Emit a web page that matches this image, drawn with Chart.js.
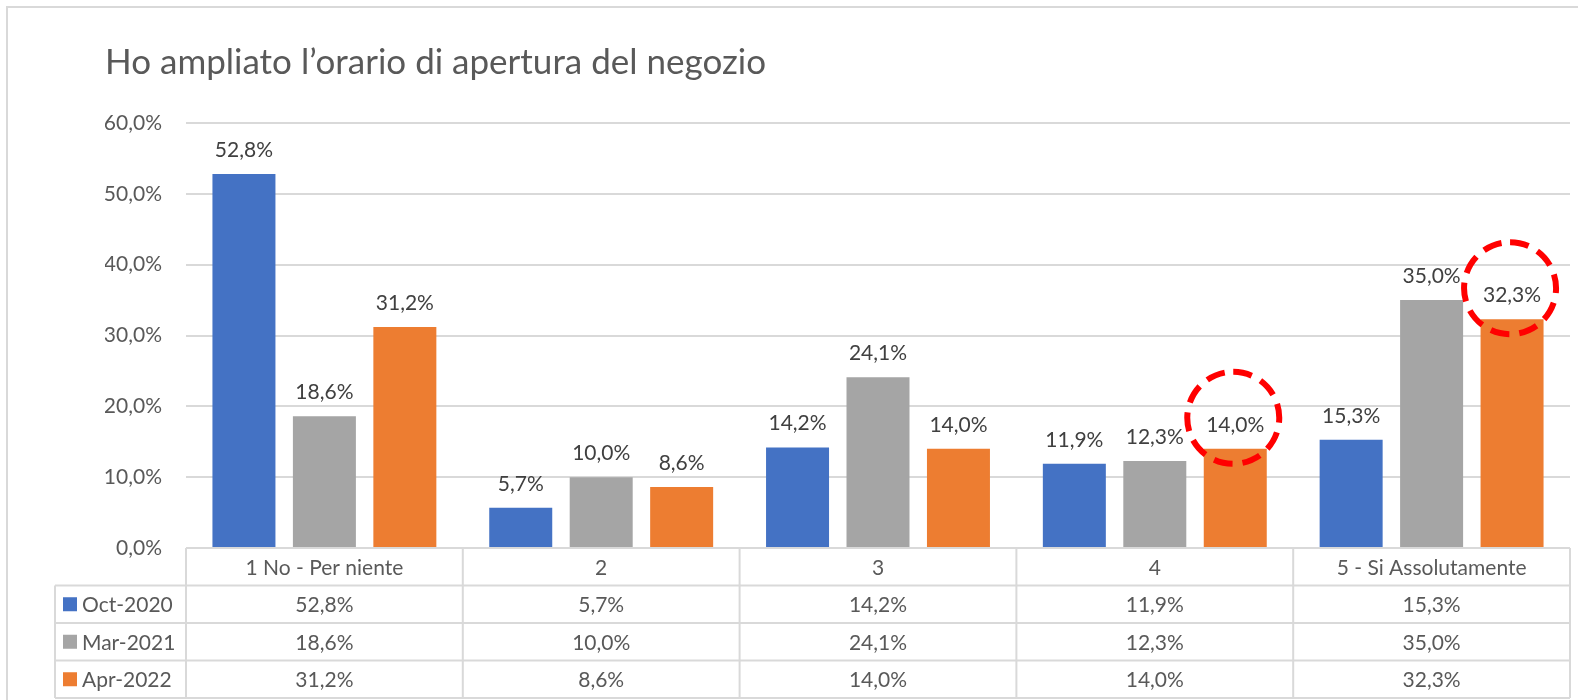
<!DOCTYPE html>
<html lang="it">
<head>
    <meta charset="UTF-8">
    <title>Ho ampliato l’orario di apertura del negozio</title>
    <style>
        body { margin: 0; background: #fff; }
    </style>
</head>
<body>
    <canvas id="orario_chart" width="1578" height="700"></canvas>
</body>
<script src="https://cdn.jsdelivr.net/npm/chart.js@4.4.1/dist/chart.umd.min.js"></script>
<script>
    const categories = ['1 No - Per niente', '2', '3', '4', '5 - Si Assolutamente'];
    const seriesNames = ['Oct-2020', 'Mar-2021', 'Apr-2022'];
    const oct2020 = [52.8, 5.7, 14.2, 11.9, 15.3];
    const mar2021 = [18.6, 10.0, 24.1, 12.3, 35.0];
    const apr2022 = [31.2, 8.6, 14.0, 14.0, 32.3];
    const yTicks = [0, 10, 20, 30, 40, 50, 60];
    // bars circled in red (series index, category index)
    const highlighted = [[2, 3], [2, 4]];

    const colors = ['#4472C4', '#A5A5A5', '#ED7D31'];
    const FONT = 'Lato';
    const TEXT = '#595959';
    const LINE = '#D9D9D9';

    const pct = v => v.toFixed(1).replace('.', ',') + '%';

    const frame = {
        id: 'frame',
        beforeDraw(chart) {
            const c = chart.ctx;
            c.save();
            c.strokeStyle = LINE;
            c.lineWidth = 2;
            c.strokeRect(7, 7, chart.width + 20, chart.height + 20);
            c.restore();
        }
    };

    const barLabels = {
        id: 'barLabels',
        afterDatasetsDraw(chart) {
            const c = chart.ctx;
            c.save();
            c.font = '21px ' + FONT;
            c.fillStyle = '#404040';
            c.textAlign = 'center';
            c.textBaseline = 'alphabetic';
            chart.data.datasets.forEach((ds, i) => {
                chart.getDatasetMeta(i).data.forEach((el, j) => {
                    c.fillText(pct(ds.data[j]), el.x, el.y - 17);
                });
            });
            // red dashed circles
            c.strokeStyle = '#FF0000';
            c.lineWidth = 6;
            c.setLineDash([19, 10]);
            highlighted.forEach(([i, j]) => {
                const el = chart.getDatasetMeta(i).data[j];
                c.beginPath();
                c.arc(el.x - 2, el.y - 31, 46, -Math.PI / 2, Math.PI * 1.5);
                c.stroke();
            });
            c.restore();
        }
    };

    const dataTable = {
        id: 'dataTable',
        afterDraw(chart) {
            const c = chart.ctx;
            const x = chart.scales.x;
            const area = chart.chartArea;
            const colW = x.width / categories.length;
            const rows = [area.bottom, area.bottom + 37.5, area.bottom + 75, area.bottom + 112.5, area.bottom + 150];
            const tableLeft = 55;
            c.save();
            c.strokeStyle = LINE;
            c.lineWidth = 2;
            c.beginPath();
            c.moveTo(area.left, rows[0]); c.lineTo(area.right, rows[0]);
            for (let r = 1; r < rows.length; r++) {
                c.moveTo(tableLeft, rows[r]); c.lineTo(area.right, rows[r]);
            }
            c.moveTo(tableLeft, rows[1]); c.lineTo(tableLeft, rows[4]);
            for (let k = 0; k <= categories.length; k++) {
                const xx = area.left + k * colW;
                c.moveTo(xx, rows[0]); c.lineTo(xx, rows[4]);
            }
            c.stroke();

            c.font = '21px ' + FONT;
            c.fillStyle = TEXT;
            c.textAlign = 'center';
            c.textBaseline = 'middle';
            categories.forEach((cat, j) => {
                const cx = x.getPixelForValue(j);
                c.fillText(cat, cx, (rows[0] + rows[1]) / 2 + 1);
                chart.data.datasets.forEach((ds, i) => {
                    c.fillText(pct(ds.data[j]), cx, (rows[i + 1] + rows[i + 2]) / 2 + 1);
                });
            });
            // legend keys
            c.textAlign = 'left';
            seriesNames.forEach((name, i) => {
                const cy = (rows[i + 1] + rows[i + 2]) / 2;
                c.fillStyle = colors[i];
                c.fillRect(63, cy - 7, 14, 14);
                c.fillStyle = TEXT;
                c.fillText(name, 82, cy + 1);
            });
            c.restore();
        }
    };

    const ctx = document.getElementById('orario_chart').getContext('2d');

    new Chart(ctx, {
        type: 'bar',
        data: {
            labels: categories,
            datasets: [oct2020, mar2021, apr2022].map((values, i) => ({
                label: seriesNames[i],
                data: values,
                backgroundColor: colors[i],
                categoryPercentage: 0.872,
                barPercentage: 0.783
            }))
        },
        options: {
            responsive: false,
            animation: false,
            layout: {
                padding: { left: 105, right: 8, top: 0, bottom: 0 }
            },
            plugins: {
                legend: { display: false },
                tooltip: { enabled: false },
                title: {
                    display: true,
                    text: 'Ho ampliato l’orario di apertura del negozio',
                    align: 'start',
                    color: TEXT,
                    font: { family: FONT, size: 35, weight: 'normal' },
                    padding: { top: 42, bottom: 39 }
                }
            },
            scales: {
                x: {
                    grid: { display: false },
                    border: { display: false },
                    ticks: { display: false },
                    afterFit(scale) { scale.height = 152; }
                },
                y: {
                    min: 0,
                    max: 60,
                    afterBuildTicks(scale) { scale.ticks = yTicks.map(v => ({ value: v })); },
                    grid: { color: LINE, lineWidth: 2, drawTicks: false },
                    border: { display: false },
                    ticks: {
                        padding: 24,
                        color: TEXT,
                        font: { family: FONT, size: 21 },
                        callback: v => pct(v)
                    },
                    afterFit(scale) { scale.width = 81; }
                }
            }
        },
        plugins: [frame, barLabels, dataTable]
    });
</script>
</html>
